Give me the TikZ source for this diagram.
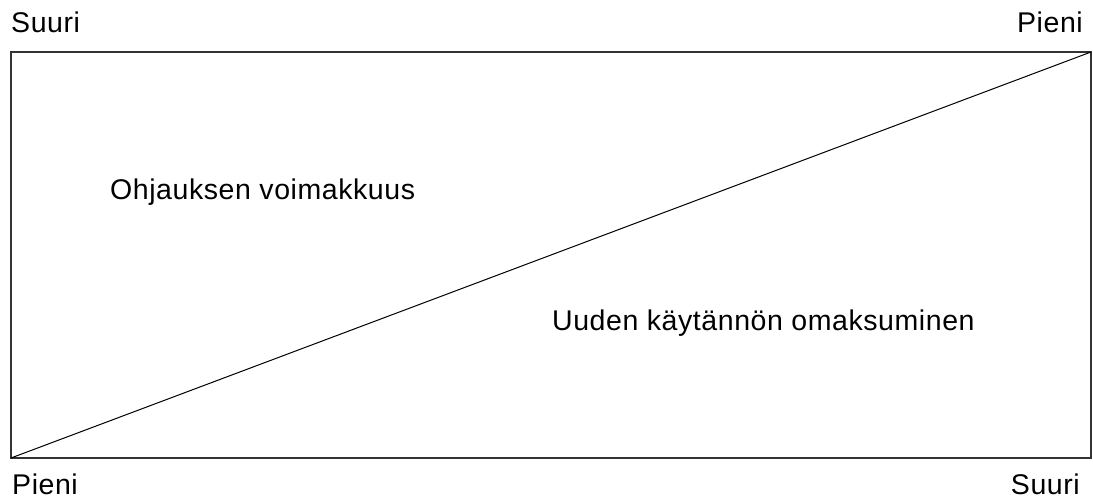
\documentclass[tikz,border=0pt]{standalone}
\usepackage{fontspec}
\setmainfont{Liberation Sans}[LetterSpace=2]
\begin{document}
\begin{tikzpicture}[x=1pt,y=-1pt,
  lbl/.style={inner sep=0pt,font=\fontsize{28.5}{32}\selectfont,text=black}]
\useasboundingbox (0,0) rectangle (1093,500);
\coordinate (bl) at (11,458);
\coordinate (tr) at (1091,52);
\draw[line width=1.6pt,draw=black!80] (bl) rectangle (tr);
\draw[line width=1pt] (bl) -- (tr);
\node[lbl,anchor=base west] (tl1) at (11,33) {Suuri};
\node[lbl,anchor=base east] (tr1) at (1083,33) {Pieni};
\node[lbl,anchor=base west] (bl1) at (12,494) {Pieni};
\node[lbl,anchor=base east] (br1) at (1080,494) {Suuri};
\node[lbl,anchor=base west] (ohj) at (110,200) {Ohjauksen voimakkuus};
\node[lbl,anchor=base west] (uud) at (552,330) {Uuden käytännön omaksuminen};
\end{tikzpicture}
\end{document}
